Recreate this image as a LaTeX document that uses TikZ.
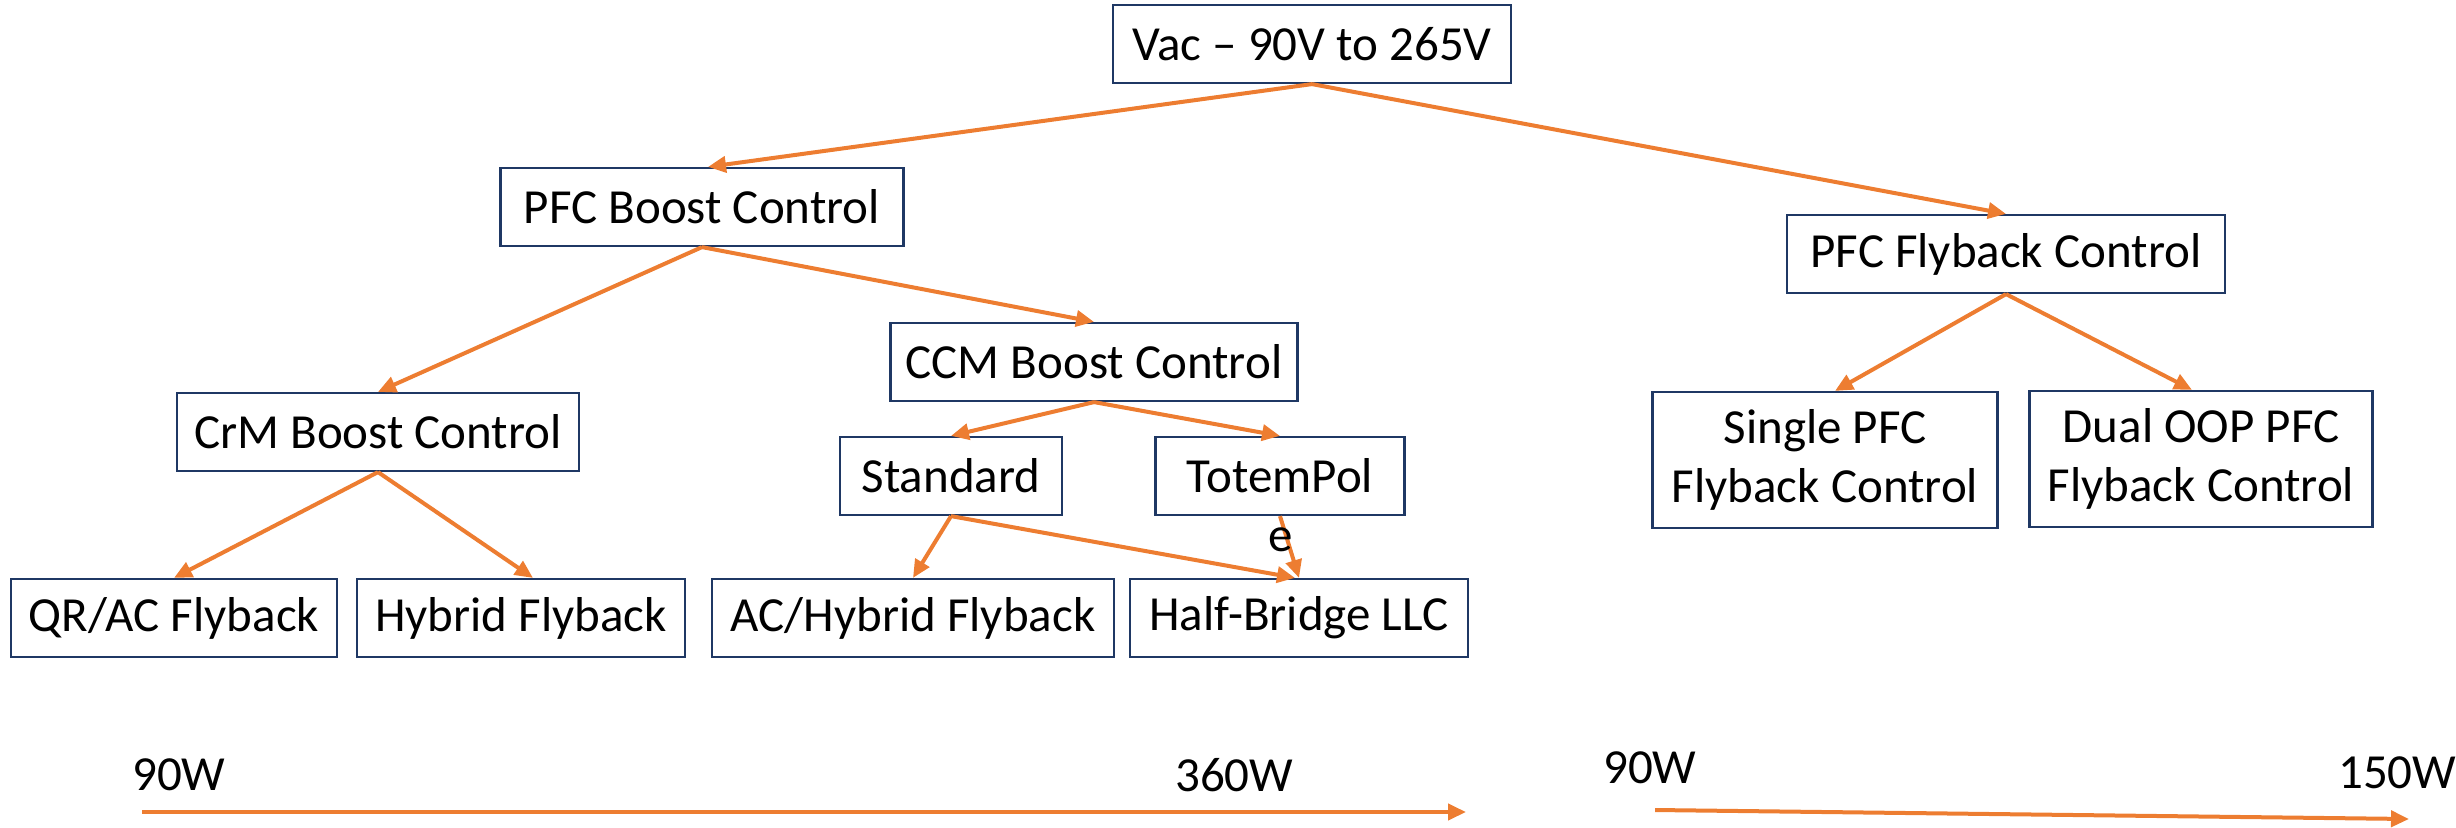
\documentclass[tikz,border=0pt]{standalone}
\usepackage{fontspec}
\setmainfont{Carlito}
\usetikzlibrary{arrows.meta}
\definecolor{boxblue}{HTML}{1F3864}
\definecolor{arrorange}{HTML}{ED7D31}
\begin{document}
\begin{tikzpicture}[x=1pt,y=-1pt,
  box/.style={draw=boxblue,line width=2.2pt,fill=white,inner sep=0pt,minimum height=78pt,align=center,font=\fontsize{49}{59}\selectfont},
  conn/.style={draw=arrorange,line width=4pt,-{Triangle[length=18pt,width=16pt]}},
  lbl/.style={inner sep=0pt,font=\fontsize{49}{59}\selectfont}]
\useasboundingbox (0,0) rectangle (2456,827);
\node[box,minimum width=398pt] (vac) at (1312,44) {Vac – 90V to 265V};
\node[box,minimum width=403pt] (pfcb) at (702,207) {PFC Boost Control};
\node[box,minimum width=438pt] (pfcf) at (2006,254) {PFC Flyback Control};
\node[box,minimum width=407pt] (ccm) at (1094,362) {CCM Boost Control};
\node[box,minimum width=402pt] (crm) at (378,432) {CrM Boost Control};
\node[box,minimum width=222pt] (std) at (951,476) {Standard};
\node[box,minimum width=249pt] (totem) at (1280,476) {TotemPol};
\node[box,minimum width=345pt,minimum height=136pt] (single) at (1825,460) {Single PFC\\Flyback Control};
\node[box,minimum width=343pt,minimum height=136pt] (dual) at (2201,459) {Dual OOP PFC\\Flyback Control};
\node[box,minimum width=326pt] (qr) at (174,618) {QR/AC Flyback};
\node[box,minimum width=328pt] (hyb) at (521,618) {Hybrid Flyback};
\node[box,minimum width=402pt] (achyb) at (913,618) {AC/Hybrid Flyback};
\node[box,minimum width=338pt] (hb) at (1299,618) {Half-Bridge LLC};

\draw[conn] (vac.south) -- ([xshift=6pt]pfcb.north);
\draw[conn] (vac.south) -- (pfcf.north);
\draw[conn] (pfcb.south) -- (crm.north);
\draw[conn] (pfcb.south) -- (ccm.north);
\draw[conn] (ccm.south) -- (std.north);
\draw[conn] (ccm.south) -- (totem.north);
\draw[conn] (crm.south) -- (qr.north);
\draw[conn] (crm.south) -- ([xshift=12pt]hyb.north);
\draw[conn] (std.south) -- (achyb.north);
\draw[conn] (std.south) -- ([xshift=-4pt]hb.north);
\draw[conn] (totem.south) -- (hb.north);
\draw[conn] (pfcf.south) -- ([xshift=10pt]single.north);
\draw[conn] (pfcf.south) -- ([xshift=-9pt]dual.north);

\node[lbl] (e) at (1281,540) {e};

\node[lbl,anchor=west] (l90a) at (132,775) {90W};
\node[lbl,anchor=west] (l360) at (1175,775) {360W};
\node[lbl,anchor=west] (l90b) at (1603,768) {90W};
\node[lbl,anchor=west] (l150) at (2338,773) {150W};

\coordinate (a1s) at (142,812);
\coordinate (a1e) at (1466,812);
\coordinate (a2s) at (1655,810);
\coordinate (a2e) at (2409,819);
\draw[conn] (a1s) -- (a1e);
\draw[conn] (a2s) -- (a2e);
\end{tikzpicture}
\end{document}
